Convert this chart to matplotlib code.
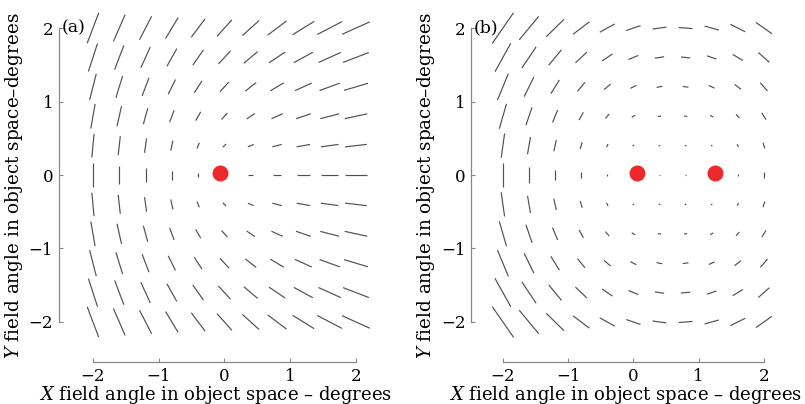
import numpy as np
import matplotlib
matplotlib.use("Agg")
import matplotlib.pyplot as plt
from matplotlib.collections import LineCollection

plt.rcParams["font.family"] = "DejaVu Serif"
plt.rcParams["mathtext.fontset"] = "dejavuserif"

# field grid (degrees)
x_field = [-2.0, -1.6, -1.2, -0.8, -0.4, 0.0, 0.4, 0.8, 1.2, 1.6, 2.0]
y_field = [2.0, 1.6, 1.2, 0.8, 0.4, 0.0, -0.4, -0.8, -1.2, -1.6, -2.0]

# (a) orientation (deg) and length of each astigmatism line
ang_a = [
    [67, 64, 60, 56, 50, 45, 39, 34, 29, 25, 22],
    [70, 67, 63, 58, 52, 44, 37, 31, 26, 22, 19],
    [74, 71, 67, 61, 54, 44, 35, 28, 22, 18, 15],
    [79, 76, 73, 67, 57, 44, 31, 22, 17, 13, 11],
    [84, 83, 81, 76, 66, 43, 21, 13, 9, 7, 6],
    [90, 90, 90, 90, 90, 0, 0, 0, 0, 0, 0],
    [-84, -83, -81, -76, -66, -43, -21, -13, -9, -7, -6],
    [-79, -76, -73, -67, -57, -44, -31, -22, -17, -13, -11],
    [-74, -71, -67, -61, -54, -44, -35, -28, -22, -18, -15],
    [-70, -67, -63, -58, -52, -44, -37, -31, -26, -22, -19],
    [-67, -64, -60, -56, -50, -45, -39, -34, -29, -25, -22],
]
len_a = [
    [0.449, 0.407, 0.371, 0.343, 0.325, 0.320, 0.327, 0.346, 0.376, 0.413, 0.456],
    [0.406, 0.359, 0.317, 0.284, 0.263, 0.256, 0.265, 0.288, 0.323, 0.365, 0.414],
    [0.369, 0.316, 0.268, 0.228, 0.201, 0.192, 0.204, 0.233, 0.275, 0.324, 0.377],
    [0.340, 0.282, 0.227, 0.178, 0.141, 0.128, 0.145, 0.184, 0.235, 0.291, 0.349],
    [0.322, 0.259, 0.198, 0.139, 0.087, 0.064, 0.094, 0.147, 0.207, 0.269, 0.331],
    [0.315, 0.251, 0.187, 0.123, 0.059, 0.005, 0.069, 0.133, 0.197, 0.261, 0.325],
    [0.322, 0.259, 0.198, 0.139, 0.087, 0.064, 0.094, 0.147, 0.207, 0.269, 0.331],
    [0.340, 0.282, 0.227, 0.178, 0.141, 0.128, 0.145, 0.184, 0.235, 0.291, 0.349],
    [0.369, 0.316, 0.268, 0.228, 0.201, 0.192, 0.204, 0.233, 0.275, 0.324, 0.377],
    [0.406, 0.359, 0.317, 0.284, 0.263, 0.256, 0.265, 0.288, 0.323, 0.365, 0.414],
    [0.449, 0.407, 0.371, 0.343, 0.325, 0.320, 0.327, 0.346, 0.376, 0.413, 0.456],
]

# (b)
ang_b = [
    [52, 47, 41, 34, 26, 17, 7, -4, -14, -24, -32],
    [58, 53, 47, 40, 31, 20, 8, -5, -17, -28, -38],
    [65, 61, 55, 47, 37, 24, 10, -6, -21, -34, -45],
    [72, 69, 65, 58, 47, 30, 12, -7, -26, -43, -55],
    [81, 79, 76, 72, 62, 40, 12, -7, -32, -58, -70],
    [90, 90, 90, 90, 90, 90, 0, 0, 0, 90, 90],
    [-81, -79, -76, -72, -62, -40, -12, 7, 32, 58, 70],
    [-72, -69, -65, -58, -47, -30, -12, 7, 26, 43, 55],
    [-65, -61, -55, -47, -37, -24, -10, 6, 21, 34, 45],
    [-58, -53, -47, -40, -31, -20, -8, 5, 17, 28, 38],
    [-52, -47, -41, -34, -26, -17, -7, 4, 14, 24, 32],
]
len_b = [
    [0.530, 0.438, 0.362, 0.302, 0.258, 0.229, 0.214, 0.212, 0.224, 0.249, 0.289],
    [0.457, 0.364, 0.288, 0.229, 0.185, 0.158, 0.144, 0.142, 0.153, 0.177, 0.216],
    [0.399, 0.306, 0.229, 0.169, 0.127, 0.101, 0.089, 0.088, 0.097, 0.119, 0.157],
    [0.357, 0.263, 0.186, 0.125, 0.082, 0.058, 0.049, 0.049, 0.054, 0.074, 0.112],
    [0.332, 0.237, 0.158, 0.095, 0.050, 0.026, 0.024, 0.025, 0.024, 0.041, 0.082],
    [0.323, 0.228, 0.149, 0.085, 0.036, 0.003, 0.014, 0.016, 0.003, 0.026, 0.071],
    [0.332, 0.237, 0.158, 0.095, 0.050, 0.026, 0.024, 0.025, 0.024, 0.041, 0.082],
    [0.357, 0.263, 0.186, 0.125, 0.082, 0.058, 0.049, 0.049, 0.054, 0.074, 0.112],
    [0.399, 0.306, 0.229, 0.169, 0.127, 0.101, 0.089, 0.088, 0.097, 0.119, 0.157],
    [0.457, 0.364, 0.288, 0.229, 0.185, 0.158, 0.144, 0.142, 0.153, 0.177, 0.216],
    [0.530, 0.438, 0.362, 0.302, 0.258, 0.229, 0.214, 0.212, 0.224, 0.249, 0.289],
]

# node positions (red dots)
node_a_x = [-0.07]
node_a_y = [0.03]
node_b_x = [0.05, 1.25]
node_b_y = [0.03, 0.03]

X, Y = np.meshgrid(x_field, y_field)

fig = plt.figure(figsize=(8.05, 4.04), dpi=100)
axa = fig.add_axes([0.073, 0.103, 0.3896, 0.873])
axb = fig.add_axes([0.585, 0.103, 0.3842, 0.873])
panels = [(axa, ang_a, len_a, node_a_x, node_a_y, "(a)", -2.52),
          (axb, ang_b, len_b, node_b_x, node_b_y, "(b)", -2.49)]
for ax, ang, ln, nx, ny, tag, x0 in panels:
    t = np.radians(np.array(ang, dtype=float))
    h = np.array(ln) / 2
    dx = h * np.cos(t)
    dy = h * np.sin(t)
    segs = np.stack([np.stack([X - dx, Y - dy], -1),
                     np.stack([X + dx, Y + dy], -1)], -2).reshape(-1, 2, 2)
    ax.add_collection(LineCollection(segs, colors="#505050", lw=0.85))
    ax.plot(nx, ny, "o", ms=11.5, color="#ec2a2a", mec="none")
    ax.set_xlim(x0, 2.25)
    ax.set_ylim(-2.55, 2.25)
    for s in ["top", "right"]:
        ax.spines[s].set_visible(False)
    for s in ["left", "bottom"]:
        ax.spines[s].set_bounds(-2, 2)
        ax.spines[s].set_color("#888888")
        ax.spines[s].set_linewidth(0.9)
    ax.set_xticks([-2, -1, 0, 1, 2])
    ax.set_yticks([-2, -1, 0, 1, 2])
    ax.tick_params(direction="in", length=3, color="#888888", labelsize=12, pad=4)
    ax.set_xlabel(r"$X$ field angle in object space – degrees", fontsize=13, labelpad=-1)
    ax.set_ylabel(r"$Y$ field angle in object space–degrees", fontsize=13.2, labelpad=3)
    ax.text(x0 + 0.04, 2.0, tag, fontsize=12.5, va="center", ha="left")

fig.savefig("out.png")
